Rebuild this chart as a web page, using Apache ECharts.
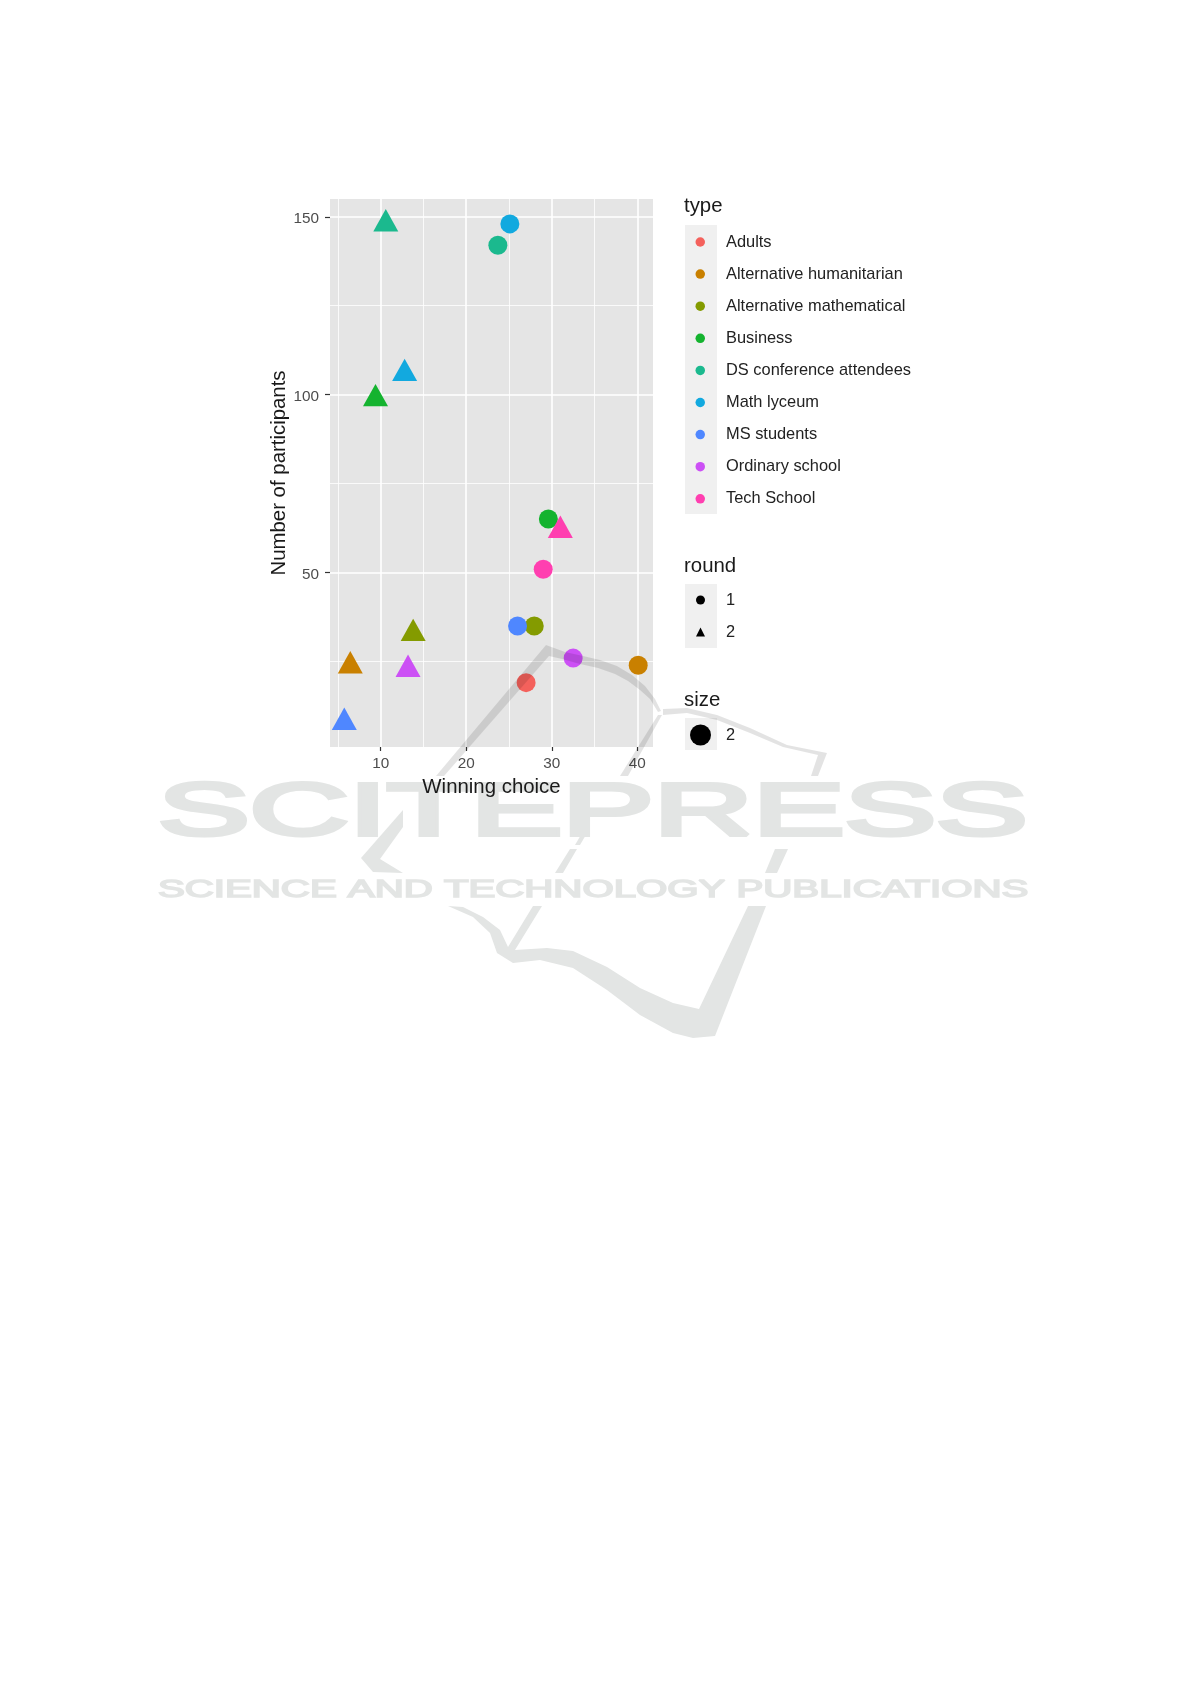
<!DOCTYPE html>
<html>
<head>
<meta charset="utf-8">
<style>html,body{margin:0;padding:0;background:#fff}#c{width:1191px;height:1684px}</style>
<script src="https://cdn.jsdelivr.net/npm/echarts@6/dist/echarts.min.js"></script>
</head>
<body>
<div id="c"></div>
<script>
const types = ['Adults','Alternative humanitarian','Alternative mathematical','Business','DS conference attendees','Math lyceum','MS students','Ordinary school','Tech School'];
const colors = ['#F4615C','#C98000','#849B00','#14B32F','#1BB98E','#12A9DF','#4F87FF','#CC50F5','#FF3FB0'];
const round1X = [27,40.1,27.95,29.6,23.7,25.1,26,32.5,29];
const round1Y = [19,23.9,34.9,65,142,148,34.9,25.9,50.9];
const round2Types = ['Alternative humanitarian','Alternative mathematical','Business','DS conference attendees','Math lyceum','MS students','Ordinary school','Tech School'];
const round2X = [6.45,13.8,9.4,10.6,12.8,5.75,13.2,31];
const round2Y = [23.7,32.8,98.8,148,105.9,7.8,22.7,61.8];
const xTicks = [10,20,30,40];
const xMinor = [5,15,25,35];
const yTicks = [50,100,150];
const yMinor = [25,75,125];
const roundNames = ['1','2'];
const sizeNames = ['2'];

const FONT = '"Liberation Sans", Arial, sans-serif';
const MARK = 'rgba(0,0,0,0.11)';
const SOLID = '#E3E5E4';
const xMin = 4.08, xMax = 41.83, yMin = 0.9, yMax = 155;

const typeSeries = types.map((t, i) => {
  const data = [{value:[round1X[i], round1Y[i]], symbol:'circle', symbolSize:19}];
  const j = round2Types.indexOf(t);
  if (j >= 0) data.push({value:[round2X[j], round2Y[j]], symbol:'triangle', symbolSize:[25,22.4], symbolOffset:[0,-3.7]});
  return {name:t, type:'scatter', data, itemStyle:{color:colors[i], opacity:1}, silent:true};
});
const emptySeries = (name) => ({name, type:'scatter', data:[], itemStyle:{color:'#000'}, silent:true});
const keyRect = (x,y,w,h) => ({type:'rect', shape:{x,y,width:w,height:h}, style:{fill:'#F0F0F0'}, z:0, silent:true});
const title = (text,x,y) => ({type:'text', x, y, style:{text, fill:'#1a1a1a', fontFamily:'Liberation Sans', fontSize:20.4, verticalAlign:'middle'}, z:10, silent:true});
const poly = (points) => ({type:'polygon', shape:{points}, style:{fill:MARK}, z:50, silent:true});
const polyLow = (points) => ({type:'polygon', shape:{points}, style:{fill:SOLID}, z:-1, silent:true});
const blackKey = {color:'#000', opacity:1, borderWidth:0};

const option = {
  animation:false,
  backgroundColor:'#fff',
  grid:{left:330, top:199, width:323, height:548, show:true, backgroundColor:'#E5E5E5', borderWidth:0},
  xAxis:[
    {type:'value', min:xMin, max:xMax, position:'bottom',
     name:'Winning choice', nameLocation:'middle', nameGap:30,
     nameTextStyle:{color:'#1a1a1a', fontSize:20.4, fontFamily:FONT},
     axisLine:{show:false},
     axisTick:{show:true, length:4, customValues:xTicks, lineStyle:{color:'#333', width:1.2}},
     axisLabel:{customValues:xTicks, color:'#4D4D4D', fontSize:15.3, fontFamily:FONT, margin:9},
     splitLine:{show:true, lineStyle:{color:'#fff', width:1.6}}},
    {type:'value', min:xMin, max:xMax, position:'top',
     axisLine:{show:false}, axisLabel:{show:false},
     axisTick:{show:false, customValues:xMinor},
     splitLine:{show:true, lineStyle:{color:'#fff', width:0.8}}}
  ],
  yAxis:[
    {type:'value', min:yMin, max:yMax, position:'left',
     name:'Number of participants', nameLocation:'middle', nameGap:41,
     nameTextStyle:{color:'#1a1a1a', fontSize:20.4, fontFamily:FONT},
     axisLine:{show:false},
     axisTick:{show:true, length:5, customValues:yTicks, lineStyle:{color:'#333', width:1.2}},
     axisLabel:{customValues:yTicks, color:'#4D4D4D', fontSize:15.3, fontFamily:FONT, margin:11,
       formatter:'{v|{value}}', rich:{v:{color:'#4D4D4D', fontSize:15.3, fontFamily:FONT, padding:[4,0,0,0]}}},
     splitLine:{show:true, lineStyle:{color:'#fff', width:1.6}}},
    {type:'value', min:yMin, max:yMax, position:'right',
     axisLine:{show:false}, axisLabel:{show:false},
     axisTick:{show:false, customValues:yMinor},
     splitLine:{show:true, lineStyle:{color:'#fff', width:0.8}}}
  ],
  legend:[
    {orient:'vertical', left:695.5, top:234, selectedMode:false, itemWidth:9.5, itemHeight:9.5, itemGap:16.1, padding:0,
     data:types.map(name => ({name, icon:'circle'})),
     textStyle:{color:'#222', fontSize:16.4, fontFamily:FONT, padding:[0,0,0,16]}, itemStyle:{opacity:1}},
    {orient:'vertical', left:696, top:592, selectedMode:false, itemWidth:9, itemHeight:9, itemGap:16.1, padding:0,
     data:[{name:'round '+roundNames[0], icon:'circle', itemStyle:blackKey},{name:'round '+roundNames[1], icon:'triangle', itemStyle:blackKey}],
     formatter:n => n.replace('round ',''),
     textStyle:{color:'#222', fontSize:16.4, fontFamily:FONT, padding:[0,0,0,16]}},
    {orient:'vertical', left:690, top:724.5, selectedMode:false, itemWidth:21, itemHeight:21, padding:0,
     data:[{name:'size '+sizeNames[0], icon:'circle', itemStyle:blackKey}],
     formatter:n => n.replace('size ',''),
     textStyle:{color:'#222', fontSize:16.4, fontFamily:FONT, padding:[0,0,0,10]}}
  ],
  series:[...typeSeries, ...roundNames.map(n=>emptySeries('round '+n)), ...sizeNames.map(n=>emptySeries('size '+n))],
  graphic:[
    keyRect(685,225,32,289), keyRect(685,584,32,64), keyRect(685,718,32,32),
    title('type',684,206), title('round',684,566), title('size',684,700),
    poly([[436,776],[546,645],[565,652],[583,656],[600,660],[617,666],[632,675],[645,686],[655,699],[661,711],[658,712],[650,699],[640,690],[628,681],[615,674],[598,668],[580,664],[562,659],[549,656],[444,776]]),
    poly([[663,709],[687,708],[717,715],[750,728],[787,745],[827,753],[818,776],[811,776],[818,755],[783,747],[750,733],[717,720],[687,713],[663,715]]),
    poly([[658,715],[638,747],[620,776],[628,776],[662,715]]),
    polyLow([[590,828],[585,828],[575,845],[580,845]]),
    polyLow([[577,849],[570,849],[555,873],[563,873]]),
    polyLow([[788,849],[775,849],[765,873],[777,873]]),
    polyLow([[403,810],[361,858],[373,872],[403,873],[380,859],[403,827]]),
    polyLow([[448,906],[473,917],[490,933],[497,953],[513,963],[540,960],[573,968],[607,990],[640,1015],[673,1033],[693,1038],[715,1036],[766,906],[748,906],[699,1009],[673,1003],[640,988],[607,967],[573,951],[547,948],[515,950],[542,906],[533,906],[508,947],[500,930],[483,917],[463,907]]),
    {type:'text', x:158, y:815, scaleX:1.855, style:{text:'SCITEPRESS', fill:SOLID, stroke:SOLID, lineWidth:4, fontFamily:'Liberation Sans', fontSize:74, verticalAlign:'middle'}, z:-1, silent:true},
    {type:'text', x:158, y:890, scaleX:1.675, style:{text:'SCIENCE AND TECHNOLOGY PUBLICATIONS', fill:SOLID, stroke:SOLID, lineWidth:1.5, fontFamily:'Liberation Sans', fontSize:24, verticalAlign:'middle'}, z:-1, silent:true}
  ]
};
const chart = echarts.init(document.getElementById('c'), null, {renderer:'canvas', width:1191, height:1684});
chart.setOption(option);
</script>
</body>
</html>
